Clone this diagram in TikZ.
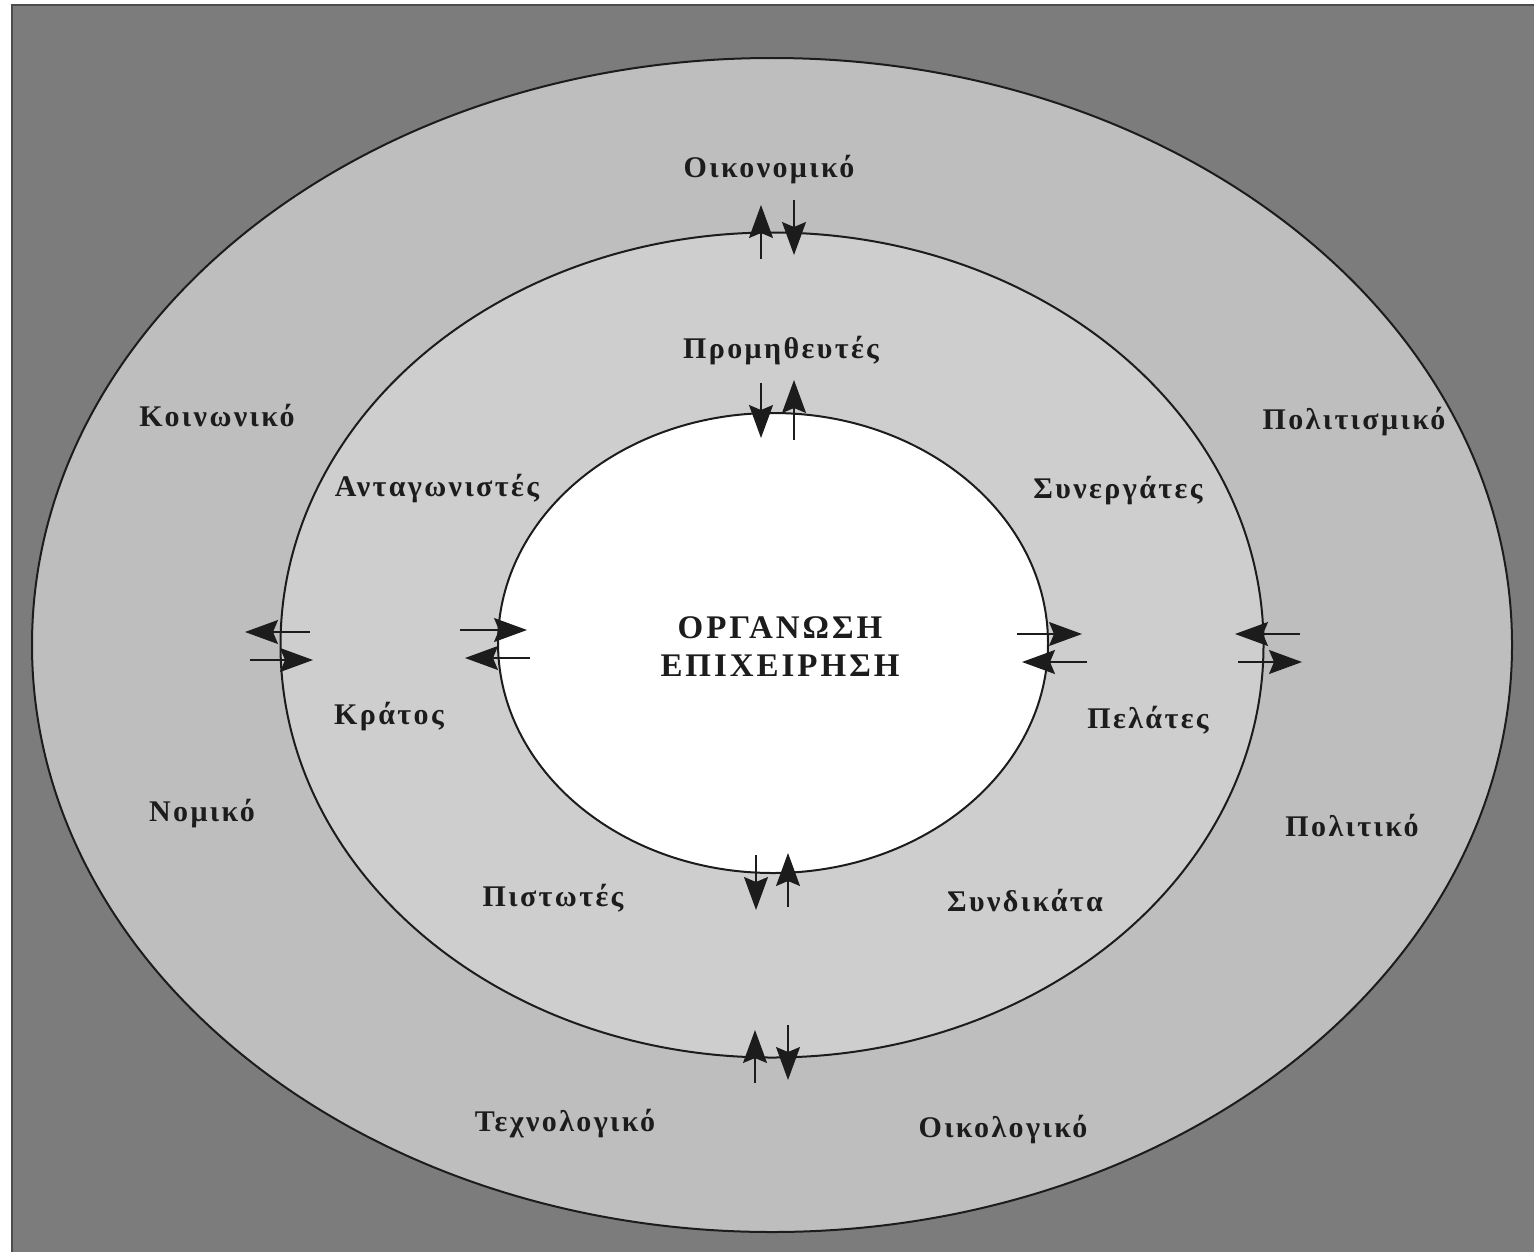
\documentclass[tikz,border=0pt]{standalone}
\usepackage{fontspec}
\setmainfont{Liberation Serif}
\newfontfamily\lblfont[LetterSpace=8]{Liberation Serif}
\newfontfamily\corefont[LetterSpace=9]{Liberation Serif}
\usetikzlibrary{arrows.meta,shapes.geometric}
\definecolor{bggray}{RGB}{124,124,124}
\definecolor{outerband}{RGB}{190,190,190}
\definecolor{midband}{RGB}{206,206,206}
\definecolor{inkdark}{RGB}{28,28,28}
\begin{document}
\begin{tikzpicture}[x=0.5pt,y=-0.5pt,
  ring/.style={ellipse, draw=inkdark, line width=1pt, inner sep=0pt, outer sep=0pt},
  flow/.style={draw=inkdark, line width=0.65pt, -{Stealth[length=16.5pt,width=12pt,inset=2.5pt]}},
  lbl/.style={font=\lblfont\bfseries\fontsize{15}{17}\selectfont, text=inkdark, inner sep=0pt},
  core/.style={font=\corefont\bfseries\fontsize{16.5}{19}\selectfont, text=inkdark, align=center, inner sep=0pt}]
\useasboundingbox (0,0) rectangle (1534,1252);
\fill[white] (0,0) rectangle (1534,1252);
\fill[bggray] (12,5) rectangle (1534,1252);
\draw[black!70, line width=1.2pt] (12,1252) -- (12,5) -- (1534,5);
% rings
\node[ring, fill=outerband, minimum width=740pt, minimum height=587pt] (outer) at (772,645) {};
\node[ring, fill=midband, minimum width=491.5pt, minimum height=412.5pt] (middle) at (772,645) {};
\node[ring, fill=white, minimum width=275pt, minimum height=230pt] (inner) at (773,643) {};
% labels
\node[core] (org) at (780,647) {ΟΡΓΑΝΩΣΗ\\ΕΠΙΧΕΙΡΗΣΗ};
\node[lbl] (oik) at (769,170) {Οικονομικό};
\node[lbl] (prom) at (781,351) {Προμηθευτές};
\node[lbl] (koin) at (217,415) {Κοινωνικό};
\node[lbl] (polit) at (1354,422) {Πολιτισμικό};
\node[lbl] (antag) at (437,489) {Ανταγωνιστές};
\node[lbl] (syn) at (1118,491) {Συνεργάτες};
\node[lbl] (krat) at (389,717) {Κράτος};
\node[lbl] (pel) at (1148,720) {Πελάτες};
\node[lbl] (nom) at (202,814) {Νομικό};
\node[lbl] (pol) at (1352,825) {Πολιτικό};
\node[lbl] (pist) at (553,898) {Πιστωτές};
\node[lbl] (synd) at (1025,901) {Συνδικάτα};
\node[lbl] (tech) at (565,1124) {Τεχνολογικό};
\node[lbl] (oikol) at (1003,1130) {Οικολογικό};
% arrow pairs
\draw[flow] (761,259) -- (761,205);
\draw[flow] (794,200) -- (794,255);
\draw[flow] (761,383) -- (761,438);
\draw[flow] (794,440) -- (794,380);
\draw[flow] (756,855) -- (756,910);
\draw[flow] (788,907) -- (788,853);
\draw[flow] (755,1083) -- (755,1030);
\draw[flow] (788,1025) -- (788,1080);
\draw[flow] (310,632) -- (245,632);
\draw[flow] (250,660) -- (313,660);
\draw[flow] (460,630) -- (527,630);
\draw[flow] (530,658) -- (465,658);
\draw[flow] (1017,634) -- (1082,634);
\draw[flow] (1087,662) -- (1022,662);
\draw[flow] (1300,634) -- (1235,634);
\draw[flow] (1238,662) -- (1302,662);
\end{tikzpicture}
\end{document}
